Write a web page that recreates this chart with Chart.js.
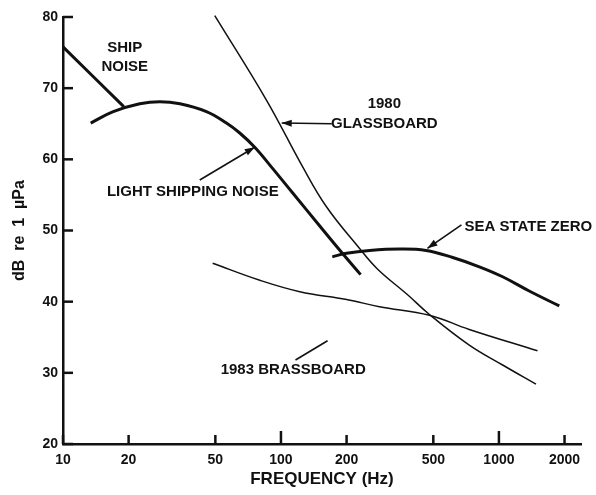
<!DOCTYPE html>
<html>
<head>
<meta charset="utf-8">
<script src="https://cdn.jsdelivr.net/npm/chart.js@4/dist/chart.umd.min.js"></script>
<style>
  html, body { margin: 0; padding: 0; background: #fff; }
  #wrap { width: 596px; height: 495px; }
</style>
</head>
<body>
<div id="wrap"><canvas id="c"></canvas></div>
<script>
// ticks
const xTicks = [10, 20, 50, 100, 200, 500, 1000, 2000];
const yTicks = [20, 30, 40, 50, 60, 70, 80];

// curves (Hz, dB re 1 uPa)
const shipFreq = [10, 19];
const shipDb = [75.8, 67.4];

const lightFreq = [13.4, 17, 22.5, 27.8, 34.4, 45.5, 56.2, 64.7, 75.8, 91.7, 113, 150, 190, 232];
const lightDb = [65.1, 66.7, 67.8, 68.1, 67.8, 66.7, 65.1, 63.7, 61.7, 58.7, 55.3, 50.7, 46.9, 43.8];

const glassFreq = [49.7, 85.9, 126, 162, 229, 277, 380, 480, 731, 1040, 1479];
const glassDb = [80.2, 68.3, 58.9, 53.3, 47.5, 44.6, 41.0, 38.2, 33.9, 31.1, 28.4];

const brassFreq = [48.6, 80, 122, 200, 283, 480, 731, 1503];
const brassDb = [45.4, 43.0, 41.4, 40.3, 39.3, 38.1, 36.1, 33.1];

const seaFreq = [172, 200, 255, 350, 463, 614, 813, 1040, 1377, 1892];
const seaDb = [46.3, 46.8, 47.2, 47.4, 47.2, 46.2, 44.9, 43.5, 41.5, 39.4];

// labels, placed in data units
const labels = [
  { text: "SHIP", f: 19.2, db: 75.6 },
  { text: "NOISE", f: 19.2, db: 73.0 },
  { text: "LIGHT SHIPPING NOISE", f: 39.4, db: 55.4 },
  { text: "1980", f: 298, db: 67.8 },
  { text: "GLASSBOARD", f: 298, db: 65.0 },
  { text: "SEA STATE ZERO", f: 1365, db: 50.5 },
  { text: "1983 BRASSBOARD", f: 113.8, db: 30.4 }
];

// pointers: from -> to, head = arrowhead at "to"
const pointers = [
  { f1: 42.4, d1: 57.1, f2: 75.8, d2: 61.7, head: true },
  { f1: 171, d1: 65.0, f2: 100.8, d2: 65.1, head: true },
  { f1: 673, d1: 50.8, f2: 470, d2: 47.5, head: true },
  { f1: 116.6, d1: 31.8, f2: 163.6, d2: 34.5, head: false }
];

const ink = "#111";

function pts(fs, ds) {
  return fs.map((f, i) => ({ x: f, y: ds[i] }));
}

function line(fs, ds, w) {
  return {
    data: pts(fs, ds),
    borderColor: ink,
    borderWidth: w,
    pointRadius: 0,
    fill: false,
    tension: 0.4,
    clip: false
  };
}

const notes = {
  id: "notes",
  afterDraw(chart) {
    const { ctx, chartArea } = chart;
    const xs = chart.scales.x, ys = chart.scales.y;
    ctx.save();

    // inward tick marks
    ctx.strokeStyle = ink;
    ctx.lineWidth = 2.5;
    yTicks.forEach(v => {
      const py = ys.getPixelForValue(v);
      ctx.beginPath();
      ctx.moveTo(chartArea.left, py);
      ctx.lineTo(chartArea.left + 10, py);
      ctx.stroke();
    });
    xTicks.forEach(v => {
      const px = xs.getPixelForValue(v);
      const len = (v === 100 || v === 1000) ? 13 : 9;
      ctx.beginPath();
      ctx.moveTo(px, chartArea.bottom);
      ctx.lineTo(px, chartArea.bottom - len);
      ctx.stroke();
    });

    // text labels
    ctx.fillStyle = ink;
    ctx.font = "bold 15px 'Liberation Sans', Arial, sans-serif";
    ctx.textAlign = "center";
    ctx.textBaseline = "middle";
    labels.forEach(l => {
      ctx.fillText(l.text, xs.getPixelForValue(l.f), ys.getPixelForValue(l.db));
    });

    // pointers
    ctx.lineWidth = 1.6;
    pointers.forEach(p => {
      const x1 = xs.getPixelForValue(p.f1), y1 = ys.getPixelForValue(p.d1);
      const x2 = xs.getPixelForValue(p.f2), y2 = ys.getPixelForValue(p.d2);
      ctx.beginPath();
      ctx.moveTo(x1, y1);
      ctx.lineTo(x2, y2);
      ctx.stroke();
      if (p.head) {
        const a = Math.atan2(y2 - y1, x2 - x1);
        ctx.beginPath();
        ctx.moveTo(x2, y2);
        ctx.lineTo(x2 - 10 * Math.cos(a) + 3.5 * Math.sin(a), y2 - 10 * Math.sin(a) - 3.5 * Math.cos(a));
        ctx.lineTo(x2 - 10 * Math.cos(a) - 3.5 * Math.sin(a), y2 - 10 * Math.sin(a) + 3.5 * Math.cos(a));
        ctx.closePath();
        ctx.fill();
      }
    });
    ctx.restore();
  }
};

new Chart(document.getElementById("c"), {
  type: "line",
  data: {
    datasets: [
      line(shipFreq, shipDb, 3),
      line(lightFreq, lightDb, 3),
      line(glassFreq, glassDb, 1.5),
      line(brassFreq, brassDb, 1.5),
      line(seaFreq, seaDb, 3)
    ]
  },
  options: {
    responsive: true,
    maintainAspectRatio: false,
    animation: false,
    layout: { padding: { top: 17, right: 15, left: 0, bottom: 0 } },
    plugins: { legend: { display: false }, tooltip: { enabled: false } },
    scales: {
      x: {
        type: "logarithmic",
        min: 10,
        max: 2380,
        afterBuildTicks: s => { s.ticks = xTicks.map(v => ({ value: v })); },
        afterFit: s => { s.height = 51; },
        grid: { display: false, drawTicks: false, tickLength: 0 },
        border: { display: true, color: ink, width: 2.5 },
        ticks: {
          callback: v => String(v),
          color: ink,
          font: { family: "'Liberation Sans', Arial, sans-serif", size: 14, weight: "bold" },
          maxRotation: 0,
          autoSkip: false,
          padding: 8
        },
        title: {
          display: true,
          text: "FREQUENCY (Hz)",
          color: ink,
          font: { family: "'Liberation Sans', Arial, sans-serif", size: 17, weight: "bold" },
          padding: { top: 0, bottom: 5 }
        }
      },
      y: {
        min: 20,
        max: 80,
        afterBuildTicks: s => { s.ticks = yTicks.map(v => ({ value: v })); },
        afterFit: s => { s.width = 63; },
        grid: { display: false, drawTicks: false, tickLength: 0 },
        border: { display: true, color: ink, width: 2.5 },
        ticks: {
          color: ink,
          font: { family: "'Liberation Sans', Arial, sans-serif", size: 14, weight: "bold" },
          padding: 5
        },
        title: {
          display: true,
          text: "dB  re  1  µPa",
          color: ink,
          font: { family: "'Liberation Sans', Arial, sans-serif", size: 16, weight: "bold" },
          padding: { top: 10, bottom: 0 }
        }
      }
    }
  },
  plugins: [notes]
});
</script>
</body>
</html>
